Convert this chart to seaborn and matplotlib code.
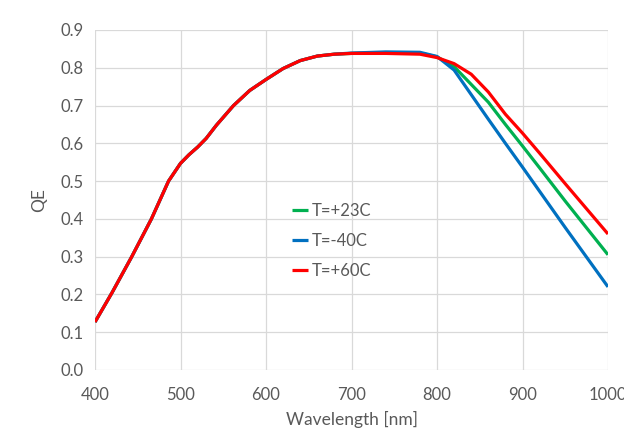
import numpy as np
import pandas as pd
import matplotlib
matplotlib.use("Agg")
import matplotlib.pyplot as plt
import seaborn as sns

wavelength = [400, 420, 443, 466, 486, 500, 510, 520, 530, 542, 562, 581, 600, 620, 640,
              660, 680, 700, 740, 780, 800, 820, 840, 860, 880, 900, 920, 950, 1000]
qe_p23 = [0.127, 0.205, 0.30, 0.40, 0.50, 0.547, 0.570, 0.590, 0.613, 0.648, 0.700, 0.740,
          0.769, 0.798, 0.819, 0.831, 0.836, 0.838, 0.840, 0.839, 0.829, 0.803, 0.756,
          0.709, 0.650, 0.593, 0.535, 0.447, 0.305]
qe_m40 = [0.127, 0.205, 0.30, 0.40, 0.50, 0.547, 0.570, 0.590, 0.613, 0.648, 0.700, 0.740,
          0.769, 0.798, 0.819, 0.831, 0.836, 0.839, 0.842, 0.841, 0.830, 0.794, 0.729,
          0.664, 0.600, 0.537, 0.473, 0.377, 0.22]
qe_p60 = [0.127, 0.205, 0.30, 0.40, 0.50, 0.547, 0.570, 0.590, 0.613, 0.648, 0.700, 0.740,
          0.769, 0.798, 0.819, 0.831, 0.836, 0.838, 0.838, 0.836, 0.827, 0.811, 0.783,
          0.736, 0.677, 0.627, 0.574, 0.493, 0.36]
series_names = ["T=+23C", "T=-40C", "T=+60C"]
colors = ["#00B050", "#0070C0", "#FF0000"]
x_ticks = [400, 500, 600, 700, 800, 900, 1000]
y_ticks = [0.0, 0.1, 0.2, 0.3, 0.4, 0.5, 0.6, 0.7, 0.8, 0.9]

df = pd.concat([
    pd.DataFrame({"Wavelength": wavelength, "QE": v, "Series": n})
    for v, n in zip([qe_p23, qe_m40, qe_p60], series_names)
], ignore_index=True)

sns.set_style("white")
plt.rcParams['font.family'] = ['Lato', 'DejaVu Sans']

fig = plt.figure(figsize=(6.24, 4.30), dpi=100)
ax = fig.add_axes([95/624, 1-370/430, (608-95)/624, (370-30)/430])

sns.lineplot(data=df, x="Wavelength", y="QE", hue="Series", hue_order=series_names,
             palette=colors, linewidth=2.3, ax=ax, sort=True, estimator=None)
for ln in ax.get_lines():
    ln.set_solid_joinstyle("round")
    ln.set_solid_capstyle("butt")

ax.set_xlim(400, 1000)
ax.set_ylim(0, 0.9)
ax.set_xticks(x_ticks)
ax.set_yticks(y_ticks)
ax.set_yticklabels([f"{v:.1f}" for v in y_ticks])
ax.grid(True, color="#d9d9d9", linewidth=0.9)
ax.set_axisbelow(True)
for s in ax.spines.values():
    s.set_visible(False)
ax.tick_params(axis="both", length=0, labelsize=12, colors="#595959", pad=8)
ax.tick_params(axis="x", pad=12)
ax.set_xlabel("Wavelength [nm]", fontsize=12.5, color="#595959", labelpad=6)
ax.set_ylabel("QE", fontsize=12.5, color="#595959", labelpad=10)

leg = ax.legend(loc="upper left", bbox_to_anchor=((285-95)/513, (370-196)/340),
                frameon=False, handlelength=1.0, handletextpad=0.2, fontsize=12,
                labelspacing=0.85, borderaxespad=0)
for t in leg.get_texts():
    t.set_color("#595959")

fig.savefig("out.png", dpi=100)
